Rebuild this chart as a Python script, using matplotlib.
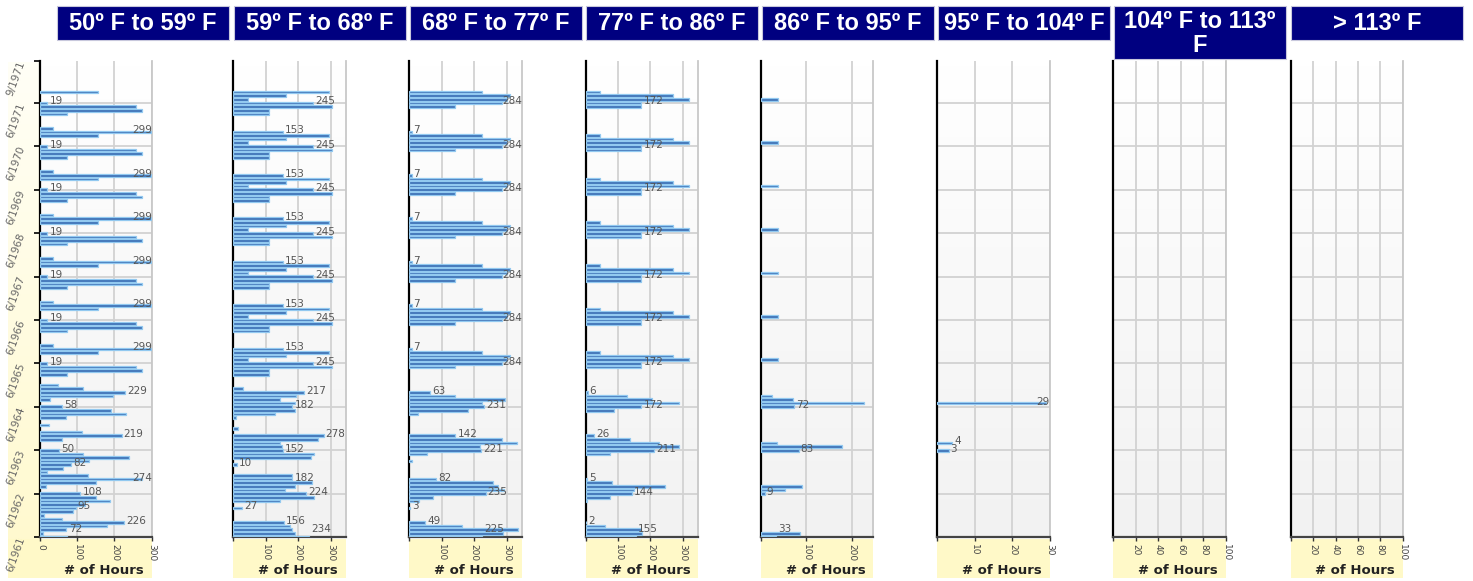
import matplotlib
matplotlib.use("Agg")
import matplotlib.pyplot as plt
import numpy as np
from matplotlib.patches import Rectangle
from matplotlib.colors import LinearSegmentedColormap

# ---------------- data (monthly hours, Jun 1961 .. Sep 1971) ----------------
headers = ["50º F to 59º F", "59º F to 68º F", "68º F to 77º F", "77º F to 86º F",
           "86º F to 95º F", "95º F to 104º F", "104º F to 113º\nF", "> 113º F"]

date_labels = ["6/1961", "6/1962", "6/1963", "6/1964", "6/1965", "6/1966",
               "6/1967", "6/1968", "6/1969", "6/1970", "6/1971", "9/1971"]

x_ticks = [[0, 100, 200, 300], [0, 100, 200, 300], [0, 100, 200, 300], [0, 100, 200, 300],
           [0, 100, 200], [0, 10, 20, 30], [0, 20, 40, 60, 80, 100], [0, 20, 40, 60, 80, 100]]
x_max = [300, 347, 346, 348, 246, 30, 100, 100]

# each row: Jun .. May
hours_50_59 = [
    72, 8, 68, 181, 226, 57, 10, 88, 95, 120, 187, 151,
    108, 0, 15, 151, 274, 128, 17, 60, 82, 131, 240, 115,
    50, 0, 0, 57, 219, 113, 0, 24, 0, 68, 231, 191,
    58, 0, 26, 195, 229, 115, 48, 0, 0, 72, 275, 257,
    19, 0, 0, 156, 299, 33, 0, 0, 0, 72, 275, 257,
    19, 0, 0, 156, 299, 33, 0, 0, 0, 72, 275, 257,
    19, 0, 0, 156, 299, 33, 0, 0, 0, 72, 275, 257,
    19, 0, 0, 156, 299, 33, 0, 0, 0, 72, 275, 257,
    19, 0, 0, 156, 299, 33, 0, 0, 0, 72, 275, 257,
    19, 0, 0, 156, 299, 33, 0, 0, 0, 72, 275, 257,
    19, 0, 0, 156]
hours_59_68 = [
    234, 190, 180, 175, 156, 0, 0, 0, 27, 0, 144, 250,
    224, 160, 190, 243, 182, 180, 0, 0, 10, 0, 240, 247,
    152, 150, 144, 261, 278, 0, 13, 0, 0, 7, 128, 190,
    182, 189, 144, 193, 217, 31, 0, 0, 0, 110, 110, 305,
    245, 45, 162, 295, 153, 0, 0, 0, 0, 110, 110, 305,
    245, 45, 162, 295, 153, 0, 0, 0, 0, 110, 110, 305,
    245, 45, 162, 295, 153, 0, 0, 0, 0, 110, 110, 305,
    245, 45, 162, 295, 153, 0, 0, 0, 0, 110, 110, 305,
    245, 45, 162, 295, 153, 0, 0, 0, 0, 110, 110, 305,
    245, 45, 162, 295, 153, 0, 0, 0, 0, 110, 110, 305,
    245, 45, 162, 295]
hours_68_77 = [
    225, 289, 336, 161, 49, 0, 0, 0, 3, 0, 30, 74,
    235, 290, 274, 258, 82, 0, 0, 0, 0, 7, 0, 53,
    221, 218, 330, 284, 142, 0, 0, 0, 0, 0, 28, 181,
    231, 223, 295, 141, 63, 0, 0, 0, 0, 0, 0, 141,
    284, 300, 310, 223, 7, 0, 0, 0, 0, 0, 0, 141,
    284, 300, 310, 223, 7, 0, 0, 0, 0, 0, 0, 141,
    284, 300, 310, 223, 7, 0, 0, 0, 0, 0, 0, 141,
    284, 300, 310, 223, 7, 0, 0, 0, 0, 0, 0, 141,
    284, 300, 310, 223, 7, 0, 0, 0, 0, 0, 0, 141,
    284, 300, 310, 223, 7, 0, 0, 0, 0, 0, 0, 141,
    284, 300, 310, 223]
hours_77_86 = [
    155, 173, 170, 60, 2, 0, 0, 0, 0, 0, 5, 75,
    144, 150, 246, 80, 5, 0, 0, 0, 0, 0, 0, 75,
    211, 287, 225, 137, 26, 0, 0, 0, 0, 0, 0, 86,
    172, 287, 205, 127, 6, 0, 0, 0, 0, 0, 0, 170,
    172, 320, 270, 45, 0, 0, 0, 0, 0, 0, 0, 170,
    172, 320, 270, 45, 0, 0, 0, 0, 0, 0, 0, 170,
    172, 320, 270, 45, 0, 0, 0, 0, 0, 0, 0, 170,
    172, 320, 270, 45, 0, 0, 0, 0, 0, 0, 0, 170,
    172, 320, 270, 45, 0, 0, 0, 0, 0, 0, 0, 170,
    172, 320, 270, 45, 0, 0, 0, 0, 0, 0, 0, 170,
    172, 320, 270, 45]
hours_86_95 = [
    33, 86, 0, 0, 0, 0, 0, 0, 0, 0, 0, 0,
    9, 53, 90, 0, 0, 0, 0, 0, 0, 0, 0, 0,
    83, 177, 35, 0, 0, 0, 0, 0, 0, 0, 0, 0,
    72, 225, 71, 24, 0, 0, 0, 0, 0, 0, 0, 0,
    0, 38, 0, 0, 0, 0, 0, 0, 0, 0, 0, 0,
    0, 38, 0, 0, 0, 0, 0, 0, 0, 0, 0, 0,
    0, 38, 0, 0, 0, 0, 0, 0, 0, 0, 0, 0,
    0, 38, 0, 0, 0, 0, 0, 0, 0, 0, 0, 0,
    0, 38, 0, 0, 0, 0, 0, 0, 0, 0, 0, 0,
    0, 38, 0, 0, 0, 0, 0, 0, 0, 0, 0, 0,
    0, 38, 0, 0]
hours_95_104 = [
    0, 0, 0, 0, 0, 0, 0, 0, 0, 0, 0, 0,
    0, 0, 0, 0, 0, 0, 0, 0, 0, 0, 0, 0,
    3, 0, 4, 0, 0, 0, 0, 0, 0, 0, 0, 0,
    0, 29, 0, 0, 0, 0, 0, 0, 0, 0, 0, 0,
    0, 0, 0, 0, 0, 0, 0, 0, 0, 0, 0, 0,
    0, 0, 0, 0, 0, 0, 0, 0, 0, 0, 0, 0,
    0, 0, 0, 0, 0, 0, 0, 0, 0, 0, 0, 0,
    0, 0, 0, 0, 0, 0, 0, 0, 0, 0, 0, 0,
    0, 0, 0, 0, 0, 0, 0, 0, 0, 0, 0, 0,
    0, 0, 0, 0, 0, 0, 0, 0, 0, 0, 0, 0,
    0, 0, 0, 0]
hours_104_113 = [0] * 124
hours_over_113 = [0] * 124

series = [hours_50_59, hours_59_68, hours_68_77, hours_77_86,
          hours_86_95, hours_95_104, hours_104_113, hours_over_113]

# ---------------- layout (pixels) ----------------
W, H = 1473, 581
fig = plt.figure(figsize=(W / 100, H / 100), dpi=100)

ax_left = [40.4, 233.3, 409.3, 585.7, 760.7, 937.3, 1113.3, 1290.7]
ax_right = [151.5, 346.0, 521.7, 698.3, 873.3, 1050.0, 1226.0, 1402.7]
ax_top, ax_bot = 61, 537
hdr_left = [57, 234, 410, 586, 762, 938, 1114, 1291]
hdr_w = 172

def fx(px):
    return px / W

def fy(py):
    return 1 - py / H

bg = fig.add_axes([0, 0, 1, 1], zorder=-5)
bg.set_xlim(0, W)
bg.set_ylim(H, 0)
bg.axis("off")

# headers
for i, t in enumerate(headers):
    hb = 59 if "\n" in t else 40
    bg.add_patch(Rectangle((hdr_left[i], 6), hdr_w, hb - 6, facecolor="#000080",
                           edgecolor="#c8c8dc", lw=0.8))
    bg.text(hdr_left[i] + hdr_w / 2, (6 + hb) / 2 + 1, t, color="white", ha="center",
            va="center", fontsize=17, fontweight="bold", family="Liberation Sans",
            linespacing=1.1)

# yellow bands
ycmap = LinearSegmentedColormap.from_list("y", ["#fffff6", "#fff9cc"])
grad = np.linspace(0, 1, 100).reshape(-1, 1)
bg.imshow(grad, extent=[8, 40, 578, 62], cmap=ycmap, aspect="auto", zorder=0)
for i in range(8):
    x0 = 8 if i == 0 else ax_left[i]
    bg.add_patch(Rectangle((x0, 539), ax_right[i] - x0, 39, facecolor="#fff9c8",
                           edgecolor="none", zorder=1))
    bg.text(ax_right[i] - 8, 570, "# of Hours", ha="right", va="center",
            fontsize=9.5, fontweight="bold", color="#222222", zorder=2)

ytop = (ax_bot - ax_top) / ((ax_bot - 103) / 120.0)
months = np.arange(124)
gcmap = LinearSegmentedColormap.from_list("g", ["#f2f2f2", "#ffffff"])

for i, vals in enumerate(series):
    ax = fig.add_axes([fx(ax_left[i]), fy(ax_bot), fx(ax_right[i] - ax_left[i]),
                       (ax_bot - ax_top) / H])
    xm = x_max[i]
    ax.set_xlim(0, xm)
    ax.set_ylim(0, ytop)
    ax.imshow(np.linspace(0, 1, 100).reshape(-1, 1), extent=[0, xm, 0, ytop],
              origin="lower", cmap=gcmap, aspect="auto", zorder=0)
    ax.set_facecolor("#f6f6f6")
    for xt in x_ticks[i][1:]:
        ax.axvline(xt, color="#d2d2d2", lw=1.3, zorder=1)
    for yt in range(12, 121, 12):
        ax.axhline(yt, color="#d2d2d2", lw=1.3, zorder=1)
    v = np.array(vals, dtype=float)
    m = v > 0
    ax.barh(months[m], v[m], height=0.72, color="#3e72b6", edgecolor="#92c9f0",
            linewidth=0.9, zorder=3)
    ppu = (ax_right[i] - ax_left[i]) / xm
    for k in months[m]:
        if i == 5 or k % 4 == 0:
            s = str(int(v[k]))
            tw = len(s) * 6.4 / ppu
            xt = min(v[k] + 2.0 / ppu, xm - tw - 0.5 / ppu)
            yl = max(k + 0.45, 2.3)
            ax.text(xt, yl, s, fontsize=7.5, color="#555555", va="center", ha="left",
                    zorder=4)
    ax.spines["top"].set_visible(False)
    ax.spines["right"].set_color("#c8c8c8")
    ax.spines["right"].set_linewidth(1.3)
    ax.spines["left"].set_color("black")
    ax.spines["left"].set_linewidth(1.6)
    ax.spines["bottom"].set_color("#444444")
    ax.spines["bottom"].set_linewidth(1.6)
    ax.set_xticks(x_ticks[i])
    lbls = [str(t) for t in x_ticks[i]]
    if i > 0:
        lbls[0] = ""
    ax.set_xticklabels(lbls, rotation=270, fontsize=6.5, color="#444444")
    ax.tick_params(axis="x", length=3, width=1, color="#333333", pad=2)
    if i == 0:
        yt = list(range(0, 121, 12)) + [ytop]
        ax.set_yticks(yt)
        ax.set_yticklabels(date_labels, rotation=70, ha="right", va="center",
                           rotation_mode="anchor", fontsize=7.5, color="#666666")
        ax.tick_params(axis="y", length=4, width=1.2, color="black", pad=9)
    else:
        ax.set_yticks([])

fig.savefig("out.png", dpi=100)
